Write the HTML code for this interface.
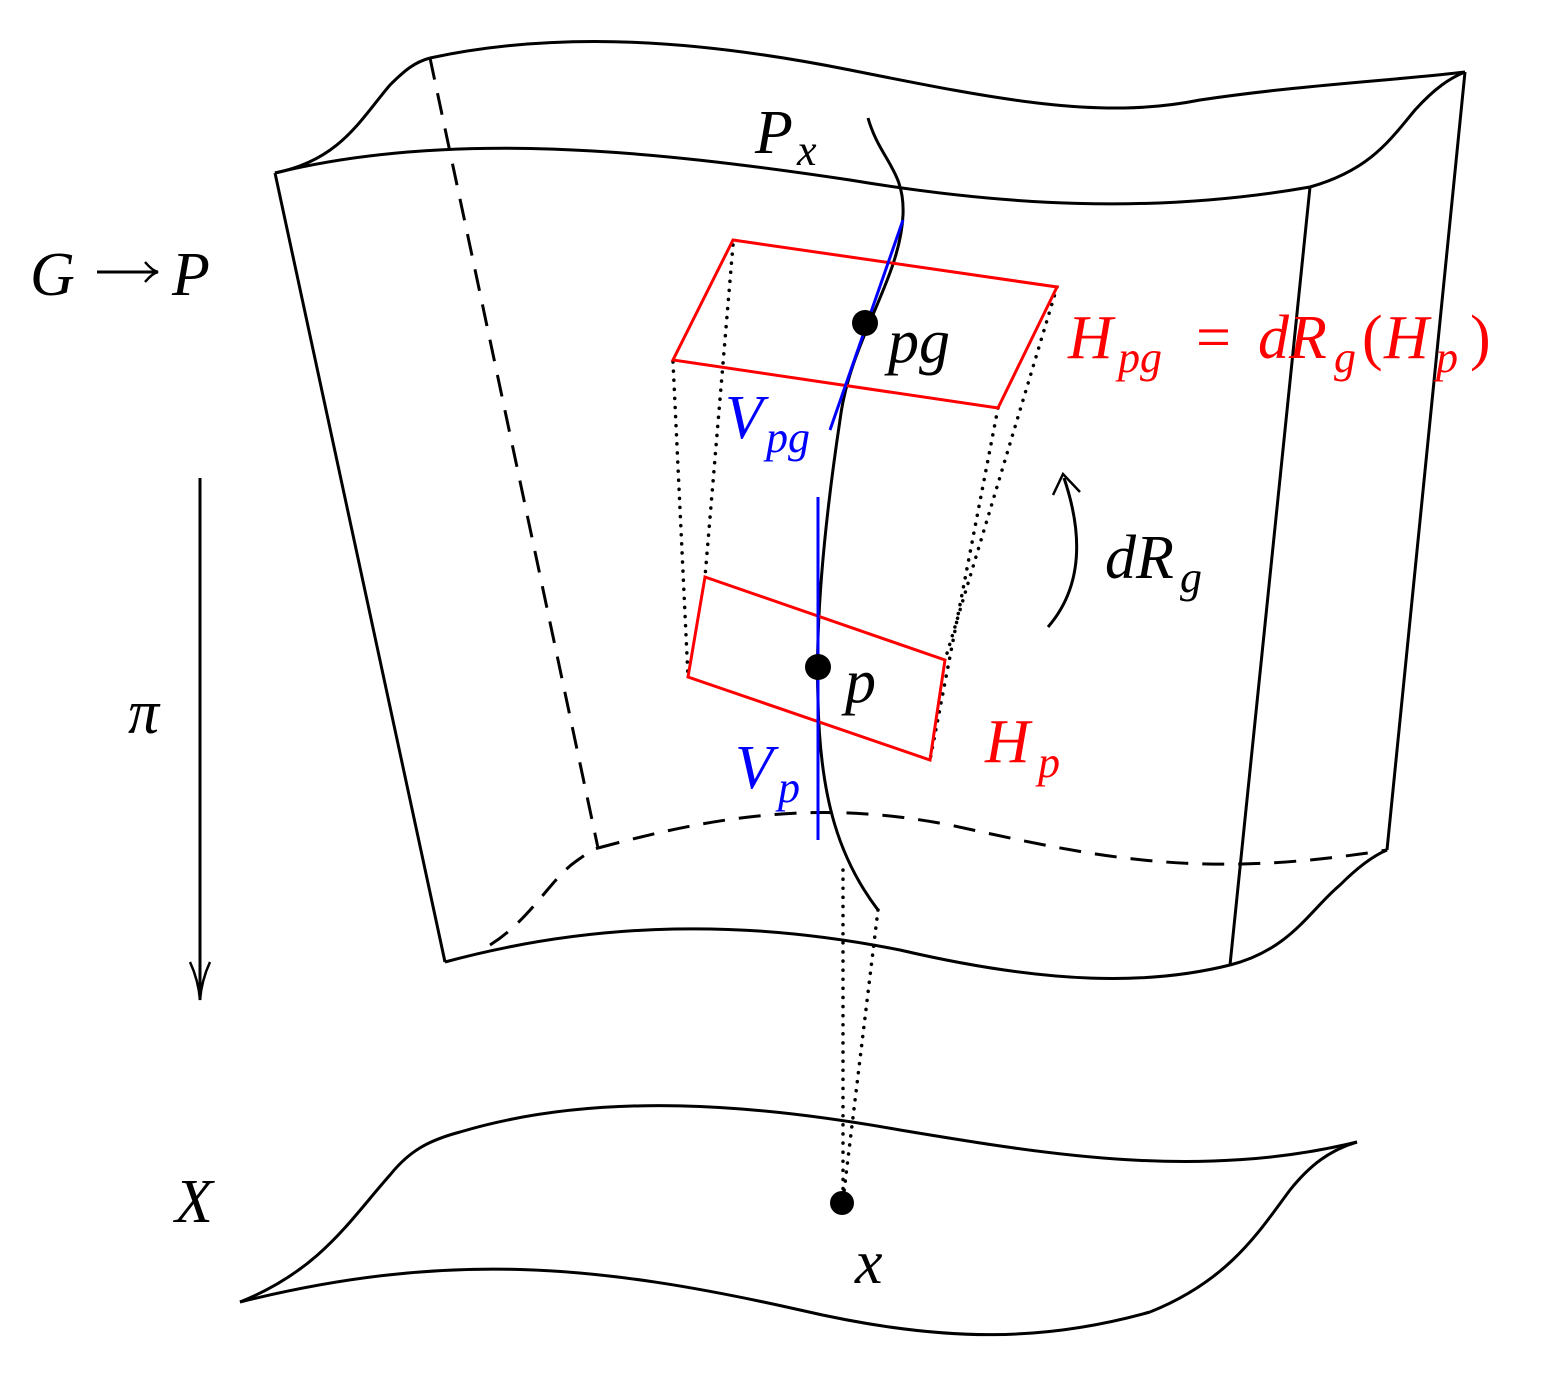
<!DOCTYPE html>
<html><head><meta charset="utf-8"><style>
html,body{margin:0;padding:0;background:#fff;}
svg{display:block;}
text{font-family:"Liberation Serif",serif;font-style:italic;}
</style></head><body>
<svg width="1547" height="1377" viewBox="0 0 1547 1377" xmlns="http://www.w3.org/2000/svg">
<g fill="none" stroke="#000" stroke-width="3">
<path d="M430,58 C560,30 700,40 850,70 C1000,100 1100,120 1200,100 C1300,85 1400,80 1465,72"/>
<path d="M275,173 C450,130 650,150 850,180 C1000,205 1150,215 1310,187"/>
<path d="M275,173 C340,160 360,120 390,85 C405,70 415,62 430,58"/>
<path d="M1310,187 C1370,170 1390,140 1415,110 C1435,88 1450,78 1465,72"/>
<path d="M275,173 L445,962"/>
<path d="M1310,187 L1230,965"/>
<path d="M1465,72 L1387,850"/>
<path d="M430,58 L598,848" stroke-dasharray="22,14"/>
<path d="M445,962 C600,920 750,920 900,950 C1050,985 1150,985 1230,965"/>
<path d="M1230,965 C1290,950 1310,910 1340,885 C1360,865 1375,855 1387,850"/>
<path d="M598,848 C720,815 820,800 950,825 C1100,858 1200,880 1387,850" stroke-dasharray="22,14"/>
<path d="M490,945 C530,920 550,880 575,862 C585,855 592,850 598,848" stroke-dasharray="22,14"/>
<path d="M868,118 C880,160 905,170 903,215 C900,280 850,340 840,420 C825,520 815,620 818,700 C820,800 840,860 878,910"/>
<g stroke-width="3.5" stroke-dasharray="0.1,9" stroke-linecap="round">
<path d="M733,245 L705,577"/>
<path d="M673,362 L688,677"/>
<path d="M1057,287 L945,660"/>
<path d="M998,408 L930,760"/>
<path d="M843,870 L843,1200"/>
<path d="M878,910 L843,1200"/>
</g>
<path d="M1048,627 C1080,590 1085,540 1064,478"/>
<path d="M1053,495 L1063,474 L1080,492" stroke-width="2.5"/>
<path d="M200,478 L200,1000"/>
<path d="M190,962 C196,975 199,988 200,1000 C201,988 204,975 210,962" stroke-width="2.5"/>
<path d="M97,272 L158,272"/>
<path d="M145,262 C150,268 154,271 158,272 C154,273 150,276 145,282" stroke-width="2.5"/>
<path d="M240,1302 C320,1270 350,1220 390,1175 C410,1150 430,1140 460,1132 C600,1090 760,1105 900,1130 C1050,1155 1200,1180 1357,1142"/>
<path d="M240,1302 C450,1250 600,1265 800,1310 C950,1345 1050,1340 1150,1312"/>
<path d="M1150,1312 C1230,1280 1260,1230 1290,1190 C1310,1165 1330,1150 1357,1142"/>
</g>
<g fill="none" stroke="#f00" stroke-width="3">
<path d="M733,240 L1057,287 L998,408 L673,360 Z"/>
<path d="M705,577 L945,660 L930,760 L688,677 Z"/>
</g>
<g stroke="#00f" stroke-width="3">
<path d="M903,220 L830,430"/>
<path d="M818,497 L818,840"/>
</g>
<g fill="#000">
<circle cx="865" cy="323" r="13"/>
<circle cx="818" cy="667" r="13"/>
<circle cx="842" cy="1203" r="12"/>
</g>
<g font-size="62" fill="#000">
<text x="30" y="295">G</text>
<text x="172" y="295">P</text>
<text x="128" y="733">π</text>
<text x="175" y="1222">X</text>
<text x="855" y="1283">x</text>
<text x="755" y="153">P</text>
<text x="797" y="165" font-size="44">x</text>
<text x="888" y="362">pg</text>
<text x="845" y="702">p</text>
<text x="1105" y="578">dR</text>
<text x="1180" y="592" font-size="44">g</text>
</g>
<g font-size="62" fill="#00f">
<text x="725" y="438">V</text>
<text x="766" y="452" font-size="44">pg</text>
<text x="735" y="788">V</text>
<text x="778" y="802" font-size="44">p</text>
</g>
<g font-size="62" fill="#f00">
<text x="1068" y="358">H</text>
<text x="1118" y="372" font-size="44">pg</text>
<text x="1196" y="358" style="font-style:normal">=</text>
<text x="1258" y="358">dR</text>
<text x="1334" y="372" font-size="44">g</text>
<text x="1362" y="358" style="font-style:normal">(</text>
<text x="1384" y="358">H</text>
<text x="1436" y="372" font-size="44">p</text>
<text x="1470" y="358" style="font-style:normal">)</text>
<text x="985" y="762">H</text>
<text x="1038" y="777" font-size="44">p</text>
</g>
</svg>
</body></html>
